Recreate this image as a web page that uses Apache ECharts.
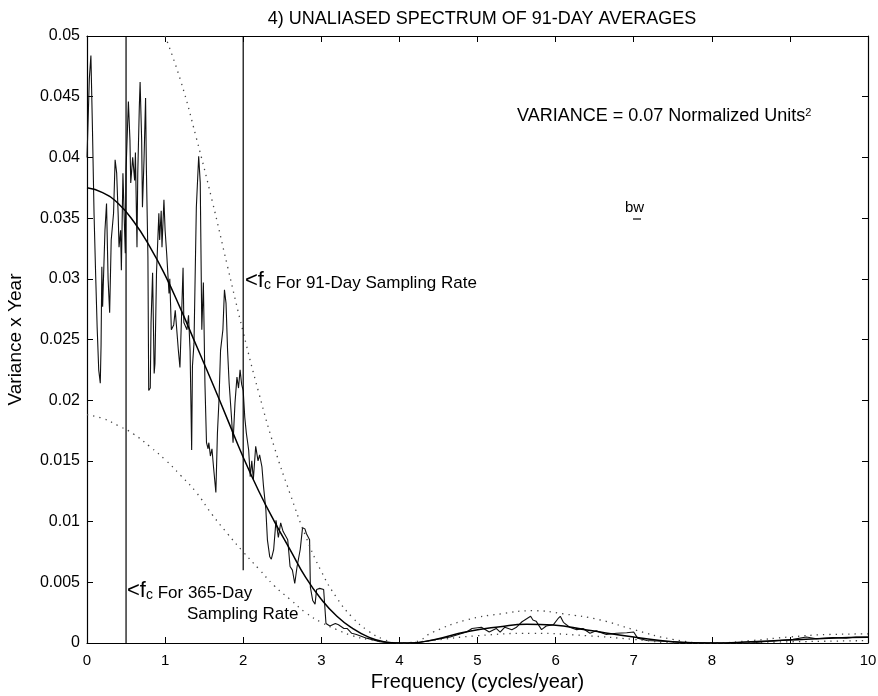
<!DOCTYPE html>
<html>
<head>
<meta charset="utf-8">
<title>Unaliased spectrum of 91-day averages</title>
<script src="https://cdn.jsdelivr.net/npm/echarts@6/dist/echarts.min.js"></script>
<style>
  html, body { margin: 0; padding: 0; background: #fff; }
  #chart { width: 878px; height: 696px; }
</style>
</head>
<body>
<div id="chart"></div>
<script>
// raw spectrum
var rawFreq = [0.00,0.03,0.05,0.07,0.09,0.11,0.13,0.15,0.17,0.18,0.19,0.20,0.23,0.25,0.27,0.29,0.31,0.34,0.36,0.38,
  0.40,0.41,0.43,0.44,0.46,0.49,0.50,0.53,0.55,0.56,0.585,0.61,0.62,0.64,0.65,0.67,0.68,0.70,0.71,0.73,
  0.75,0.76,0.78,0.79,0.81,0.82,0.84,0.86,0.87,0.89,0.92,0.93,0.95,0.96,0.985,1.00,1.02,1.05,1.06,1.08,
  1.11,1.13,1.17,1.19,1.23,1.24,1.28,1.30,1.32,1.34,1.35,1.37,1.40,1.43,1.45,1.47,1.49,1.51,1.53,1.55,
  1.56,1.58,1.60,1.62,1.65,1.67,1.69,1.71,1.74,1.76,1.78,1.80,1.82,1.85,1.87,1.895,1.92,1.94,1.96,1.98,
  2.00,2.02,2.04,2.07,2.09,2.11,2.13,2.16,2.19,2.21,2.24,2.26,2.29,2.31,2.34,2.36,2.39,2.42,2.45,2.48,
  2.51,2.53,2.57,2.60,2.63,2.66,2.69,2.73,2.76,2.79,2.81,2.85,2.86,2.89,2.92,2.94,2.98,3.03,3.06,3.11,
  3.18,3.22,3.29,3.33,3.39,3.45,3.58,3.75,3.90,4.20,4.30,4.43,4.65,4.86,4.93,5.05,5.15,5.24,5.29,5.35,
  5.44,5.50,5.57,5.63,5.68,5.71,5.75,5.82,5.88,5.97,6.03,6.06,6.10,6.18,6.27,6.35,6.44,6.52,6.65,6.78,
  6.91,7.00,7.05,7.17,7.50,7.70,8.50,8.66,8.87,9.04,9.21,9.34,9.55,9.72,9.85,10.0];
var rawVal = [0.0400,0.0465,0.0484,0.0423,0.0354,0.0305,0.0260,0.0225,0.0214,0.0245,0.0310,0.0277,0.0340,0.0362,0.0300,0.0272,0.0332,0.0354,0.0398,0.0387,
  0.0351,0.0326,0.0340,0.0307,0.0387,0.0321,0.0390,0.0446,0.0414,0.0379,0.0400,0.0381,0.0404,0.0326,0.0387,0.0442,0.0462,0.0414,0.0359,0.0398,
  0.0449,0.0392,0.0318,0.0208,0.0210,0.0264,0.0305,0.0222,0.0230,0.0305,0.0354,0.0332,0.0356,0.0326,0.0365,0.0340,0.0321,0.0288,0.0300,0.0258,
  0.0262,0.0274,0.0241,0.0227,0.0309,0.0264,0.0258,0.0270,0.0241,0.0159,0.0228,0.0247,0.0359,0.0401,0.0379,0.0258,0.0297,0.0214,0.0165,0.0160,
  0.0165,0.0154,0.0160,0.0145,0.0124,0.0173,0.0200,0.0241,0.0258,0.0291,0.0280,0.0241,0.0214,0.0186,0.0165,0.0198,0.0219,0.0210,0.0225,0.0213,
  0.0208,0.0186,0.0173,0.0159,0.0137,0.0150,0.0135,0.0162,0.0150,0.0155,0.0145,0.0129,0.0110,0.0085,0.0071,0.0069,0.0077,0.0101,0.0087,0.0099,
  0.0092,0.0091,0.0085,0.0063,0.0060,0.0049,0.0063,0.0077,0.0095,0.0094,0.0090,0.0085,0.0046,0.0035,0.0032,0.0044,0.0045,0.0044,0.0016,0.0014,
  0.0016,0.0015,0.0012,0.0012,0.0008,0.0007,0.0004,0.0001,0.0000,0.0000,0.0001,0.00025,0.0005,0.0009,0.0012,0.0013,0.0009,0.0012,0.0009,0.0013,
  0.0011,0.0013,0.00175,0.0020,0.0022,0.0019,0.0018,0.0011,0.0014,0.0015,0.0020,0.0022,0.0017,0.0013,0.0011,0.0012,0.0008,0.0010,0.0007,0.0008,
  0.00085,0.0009,0.0004,0.0002,0.0001,0.0000,0.0000,0.0001,0.0002,0.0003,0.0005,0.00035,0.00045,0.0004,0.0005,0.0005];

// smoothed spectrum
var smoothFreq = [0,0.2,0.4,0.6,0.8,1.0,1.2,1.4,1.6,1.8,2.0,2.2,2.4,2.6,2.8,3.0,3.2,3.4,3.6,3.8,
  4.0,4.1,4.43,4.86,5.29,5.63,5.97,6.40,7.0,7.5,8.0,8.5,9.0,9.5,10];
var smoothVal = [0.0375,0.0371,0.0362,0.0347,0.0327,0.0303,0.0275,0.0245,0.0215,0.0184,0.0153,0.0125,0.0100,0.0077,0.0054,0.0036,0.0022,0.0012,0.0005,0.0001,
  0.0,0.0,0.00025,0.00093,0.00134,0.00154,0.00148,0.00107,0.0005,0.0001,0.0,0.0001,0.00025,0.0004,0.00047];

// confidence bounds (dotted)
var upperFreq = [1.0,1.2,1.4,1.6,1.8,2.0,2.2,2.4,2.6,2.8,3.0,3.2,3.4,3.6,3.8,4.0,4.2,4.43,4.86,
  5.3,5.71,6.1,6.57,7.0,7.5,8.0,8.5,9.0,9.5,10];
var upperVal = [0.0500,0.0463,0.0416,0.0365,0.0310,0.0256,0.0206,0.0161,0.0123,0.0088,0.0059,0.0037,0.0021,0.0010,0.0003,0.0,0.0001,0.0009,0.0019,
  0.0024,0.00266,0.0024,0.0019,0.0011,0.0003,0.0,0.0002,0.0005,0.0007,0.00075];
var lowerFreq = [0,0.2,0.4,0.6,0.8,1.0,1.2,1.4,1.6,1.8,2.0,2.2,2.4,2.6,2.8,3.0,3.2,3.4,3.6,3.8,
  4.0,4.4,5.0,5.7,6.4,7.0,7.6,8.0,9.0,10];
var lowerVal = [0.0188,0.0185,0.0179,0.0172,0.0162,0.0151,0.0138,0.0124,0.0106,0.0090,0.0075,0.0061,0.0047,0.0036,0.0025,0.0017,0.0011,0.0006,0.0003,0.0001,
  0.0,0.0002,0.0006,0.0008,0.0006,0.0003,0.0,0.0,0.0001,0.0002];

// cutoff frequency markers: [freq, from, to]
var cutoff365 = [0.5, 0, 0.05];
var cutoff91 = [2, 0.006, 0.05];

function zip(a, b) { return a.map(function (v, i) { return [v, b[i]]; }); }

var FONT = '"Liberation Sans", Arial, Helvetica, sans-serif';
var chart = echarts.init(document.getElementById('chart'));

var tickStyle = { inside: true, length: 6, lineStyle: { color: '#000', width: 1 } };
var axisLineStyle = { show: true, onZero: false, lineStyle: { color: '#000', width: 1.2 } };
var dotted = { color: '#444', width: 1.3, type: [1.3, 5] };

chart.setOption({
  backgroundColor: '#fff',
  animation: false,
  title: {
    text: '4) UNALIASED SPECTRUM OF 91-DAY AVERAGES',
    left: 477, textAlign: 'center', top: 5,
    textStyle: { fontFamily: FONT, fontSize: 18, fontWeight: 'normal', color: '#000' }
  },
  grid: { left: 87, right: 10, top: 36, bottom: 53, containLabel: false, outerBoundsMode: 'none' },
  xAxis: [{
    type: 'value', min: 0, max: 10, interval: 1,
    name: 'Frequency (cycles/year)', nameLocation: 'middle', nameGap: 27,
    nameTextStyle: { fontFamily: FONT, fontSize: 20, color: '#000' },
    axisLine: axisLineStyle, axisTick: tickStyle, splitLine: { show: false },
    axisLabel: { fontFamily: FONT, fontSize: 15, color: '#000', margin: 10 }
  }, {
    type: 'value', min: 0, max: 10, interval: 1, position: 'top',
    axisLine: axisLineStyle, axisTick: tickStyle, splitLine: { show: false },
    axisLabel: { show: false }
  }],
  yAxis: [{
    type: 'value', min: 0, max: 0.05, interval: 0.005,
    name: 'Variance x Year', nameLocation: 'middle', nameGap: 62,
    nameTextStyle: { fontFamily: FONT, fontSize: 19, color: '#000' },
    axisLine: axisLineStyle, axisTick: tickStyle, splitLine: { show: false },
    axisLabel: { fontFamily: FONT, fontSize: 16, color: '#000', margin: 7 }
  }, {
    type: 'value', min: 0, max: 0.05, interval: 0.005, position: 'right',
    axisLine: axisLineStyle, axisTick: tickStyle, splitLine: { show: false },
    axisLabel: { show: false }
  }],
  series: [
    {
      name: 'spectrum', type: 'line', data: zip(rawFreq, rawVal),
      symbol: 'none', lineStyle: { color: '#111', width: 1.1 }, z: 3
    },
    {
      name: 'smoothed', type: 'line', data: zip(smoothFreq, smoothVal),
      symbol: 'none', smooth: 0.5,
      lineStyle: { color: '#000', width: 1.5 }, z: 4
    },
    {
      name: 'upper', type: 'line', data: zip(upperFreq, upperVal),
      symbol: 'none', smooth: 0.5, lineStyle: dotted
    },
    {
      name: 'lower', type: 'line', data: zip(lowerFreq, lowerVal),
      symbol: 'none', smooth: 0.5, lineStyle: dotted
    },
    {
      name: 'fc365', type: 'line', data: [[cutoff365[0], cutoff365[1]], [cutoff365[0], cutoff365[2]]],
      symbol: 'none', lineStyle: { color: '#000', width: 1.2 }
    },
    {
      name: 'fc91', type: 'line', data: [[cutoff91[0], cutoff91[1]], [cutoff91[0], cutoff91[2]]],
      symbol: 'none', lineStyle: { color: '#000', width: 1.2 }
    }
  ],
  graphic: [
    {
      type: 'text', left: 245, top: 270,
      style: {
        text: '{b|<f}{s|c}{t| For 91-Day Sampling Rate}',
        rich: {
          b: { fontFamily: FONT, fontSize: 22, fill: '#000', verticalAlign: 'bottom' },
          s: { fontFamily: FONT, fontSize: 14, fill: '#000', padding: [8, 0, 0, 0], verticalAlign: 'bottom' },
          t: { fontFamily: FONT, fontSize: 17, fill: '#000', verticalAlign: 'bottom' }
        }
      }
    },
    {
      type: 'text', left: 127, top: 580,
      style: {
        text: '{b|<f}{s|c}{t| For 365-Day}',
        rich: {
          b: { fontFamily: FONT, fontSize: 22, fill: '#000', verticalAlign: 'bottom' },
          s: { fontFamily: FONT, fontSize: 14, fill: '#000', padding: [8, 0, 0, 0], verticalAlign: 'bottom' },
          t: { fontFamily: FONT, fontSize: 17, fill: '#000', verticalAlign: 'bottom' }
        }
      }
    },
    {
      type: 'text', left: 187, top: 606,
      style: { text: 'Sampling Rate', fontFamily: FONT, fontSize: 17, fill: '#000' }
    },
    {
      type: 'text', left: 517, top: 107,
      style: {
        text: '{t|VARIANCE = 0.07 Normalized Units}{p|2}',
        rich: {
          t: { fontFamily: FONT, fontSize: 18, fill: '#000', verticalAlign: 'top' },
          p: { fontFamily: FONT, fontSize: 11, fill: '#000', verticalAlign: 'top', padding: [0, 0, 8, 0] }
        }
      }
    },
    {
      type: 'text', left: 625, top: 200,
      style: { text: 'bw', fontFamily: FONT, fontSize: 15, fill: '#000' }
    },
    {
      type: 'line', shape: { x1: 633, y1: 219, x2: 641, y2: 219 },
      style: { stroke: '#000', lineWidth: 1.2 }
    }
  ]
});
</script>
</body>
</html>
